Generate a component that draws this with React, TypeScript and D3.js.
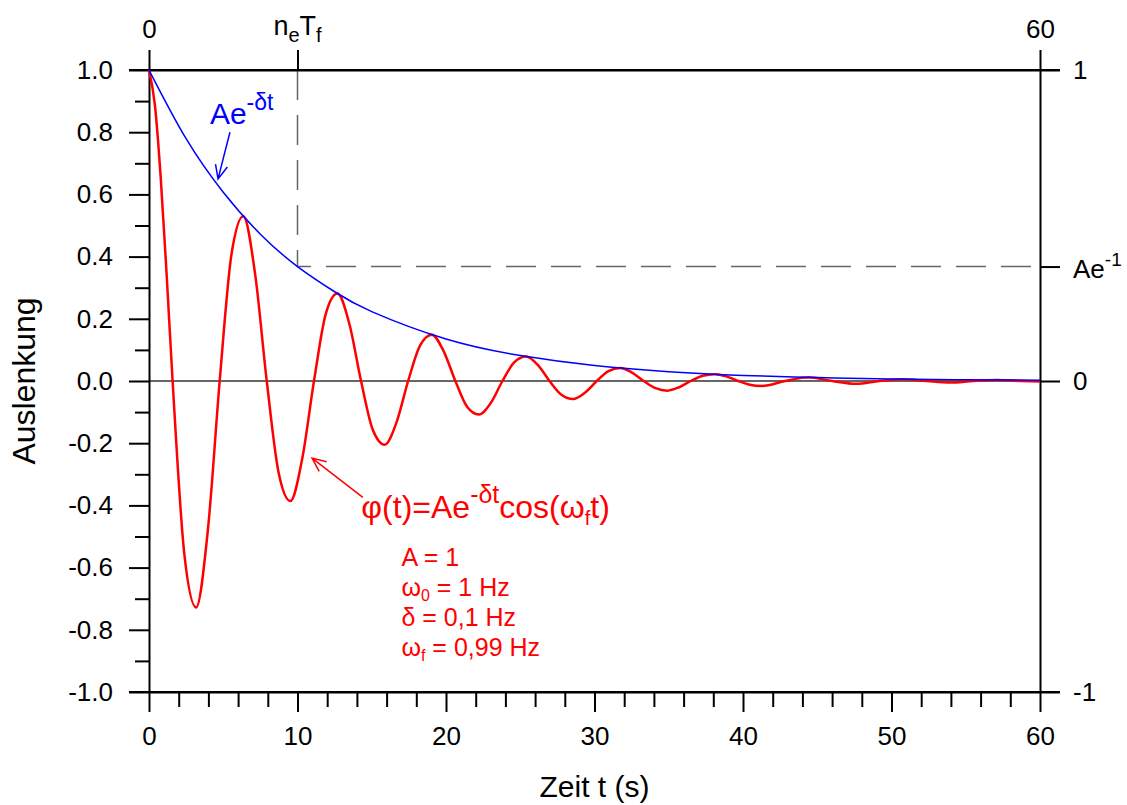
import React, { useEffect, useRef } from 'react';
import * as d3 from 'd3';

// damped oscillation, points
const redTime = [0, 0.4, 0.79, 1.19, 1.59, 2.38, 3.17, 3.97, 4.76, 5.55, 6.35, 7.14, 7.93, 8.73, 9.52, 10.31, 11.11, 11.9, 12.69, 13.49, 14.28, 15.07, 15.87, 16.66, 17.45, 18.25, 19.04, 19.83, 20.63, 21.42, 22.21, 23.01, 23.8, 24.59, 25.39, 26.18, 26.97, 27.77, 28.56, 29.35, 30.15, 30.94, 31.73, 32.53, 33.32, 34.11, 34.91, 35.7, 36.49, 37.29, 38.08, 38.87, 39.67, 40.46, 41.25, 42.84, 44.43, 46.01, 47.6, 49.19, 50.77, 52.36, 53.95, 55.53, 57.12, 58.71, 60];
const redValue = [1.0, 0.886, 0.653, 0.34, 0, -0.557, -0.728, -0.476, 0, 0.406, 0.53, 0.346, 0, -0.295, -0.386, -0.252, 0, 0.215, 0.281, 0.184, 0, -0.157, -0.205, -0.134, 0, 0.114, 0.149, 0.097, 0, -0.083, -0.108, -0.071, 0, 0.06, 0.079, 0.052, 0, -0.044, -0.058, -0.038, 0, 0.032, 0.042, 0.027, 0, -0.023, -0.031, -0.02, 0, 0.017, 0.022, 0.015, 0, -0.012, -0.016, 0, 0.012, 0, -0.009, 0, 0.006, 0, -0.005, 0, 0.003, 0, -0.002];

// envelope A e^-dt
const envTime = [0, 2.5, 5, 7.5, 10, 12.5, 15, 20, 25, 30, 35, 40, 45, 50, 55, 60];
const envValue = [1, 0.779, 0.607, 0.472, 0.368, 0.287, 0.223, 0.135, 0.082, 0.05, 0.03, 0.018, 0.011, 0.0067, 0.0041, 0.0025];

const yMajor = [-1, -0.8, -0.6, -0.4, -0.2, 0, 0.2, 0.4, 0.6, 0.8, 1];
const yLabels = ['-1.0', '-0.8', '-0.6', '-0.4', '-0.2', '0.0', '0.2', '0.4', '0.6', '0.8', '1.0'];
const yMinor = [-0.9, -0.7, -0.5, -0.3, -0.1, 0.1, 0.3, 0.5, 0.7, 0.9];
const xMajor = [0, 10, 20, 30, 40, 50, 60];
const xLabels = ['0', '10', '20', '30', '40', '50', '60'];
const xMinor = [2, 4, 6, 8, 12, 14, 16, 18, 22, 24, 26, 28, 32, 34, 36, 38, 42, 44, 46, 48, 52, 54, 56, 58];
const topTicks = [0, 10, 60];
const rightTicks = [-1, 0, 0.368, 1];

const decayT = 10;
const decayV = 0.368;

const FONT = '"Liberation Sans", Arial, sans-serif';

export default function App() {
  const ref = useRef<SVGSVGElement>(null);

  useEffect(() => {
    const svg = d3.select(ref.current);
    svg.selectAll('*').remove();

    const x = d3.scaleLinear().domain([0, 60]).range([149, 1040]);
    const y = d3.scaleLinear().domain([-1, 1]).range([692, 70]);

    const style = (g: any, size = 26) => {
      g.attr('font-size', size).attr('font-family', FONT);
      g.selectAll('path, line').attr('stroke', '#000').attr('stroke-width', 2);
      g.selectAll('text').attr('fill', '#000');
    };

    // zero line
    svg.append('line')
      .attr('x1', x(0)).attr('x2', x(60))
      .attr('y1', y(0)).attr('y2', y(0))
      .attr('stroke', '#333').attr('stroke-width', 1.3);

    // dashed guide for n_e T_f
    svg.append('path')
      .attr('d', `M${x(decayT)},${y(1)}V${y(decayV)}H${x(60)}`)
      .attr('fill', 'none')
      .attr('stroke', '#666')
      .attr('stroke-width', 1.5)
      .attr('stroke-dasharray', '30 15');

    // left
    const left = svg.append('g').attr('transform', `translate(${x(0)},0)`)
      .call(d3.axisLeft(y).tickValues(yMajor).tickSize(20).tickSizeOuter(0).tickPadding(16)
        .tickFormat((d, i) => yLabels[i]));
    style(left);
    const leftMinor = svg.append('g').attr('transform', `translate(${x(0)},0)`)
      .call(d3.axisLeft(y).tickValues(yMinor).tickSize(14).tickFormat(() => ''));
    leftMinor.select('.domain').remove();
    style(leftMinor);

    // bottom
    const bottom = svg.append('g').attr('transform', `translate(0,${y(-1)})`)
      .call(d3.axisBottom(x).tickValues(xMajor).tickSize(20).tickSizeOuter(0).tickPadding(15)
        .tickFormat((d, i) => xLabels[i]));
    style(bottom);
    const bottomMinor = svg.append('g').attr('transform', `translate(0,${y(-1)})`)
      .call(d3.axisBottom(x).tickValues(xMinor).tickSize(15).tickFormat(() => ''));
    bottomMinor.select('.domain').remove();
    style(bottomMinor);

    // top
    const top = svg.append('g').attr('transform', `translate(0,${y(1)})`)
      .call(d3.axisTop(x).tickValues(topTicks).tickSize(20).tickSizeOuter(0).tickPadding(12)
        .tickFormat((d) => (d === 10 ? '' : String(d))));
    style(top);

    // right
    const right = svg.append('g').attr('transform', `translate(${x(60)},0)`)
      .call(d3.axisRight(y).tickValues(rightTicks).tickSize(20).tickSizeOuter(0).tickPadding(13)
        .tickFormat((d) => (d === 0.368 ? '' : String(d))));
    style(right);

    // horizontal frame lines extend across tick area
    [1, -1].forEach((v) => {
      svg.append('line')
        .attr('x1', x(0) - 20).attr('x2', x(60) + 20)
        .attr('y1', y(v)).attr('y2', y(v))
        .attr('stroke', '#000').attr('stroke-width', 2);
    });

    // special labels
    const neT = svg.append('text')
      .attr('x', x(decayT)).attr('y', 35)
      .attr('text-anchor', 'middle')
      .attr('font-family', FONT).attr('font-size', 27);
    neT.append('tspan').text('n');
    neT.append('tspan').attr('font-size', 20).attr('dy', 7).text('e');
    neT.append('tspan').attr('dy', -7).text('T');
    neT.append('tspan').attr('font-size', 20).attr('dy', 7).text('f');

    const aeLbl = svg.append('text')
      .attr('x', x(60) + 33).attr('y', y(decayV) + 11)
      .attr('font-family', FONT).attr('font-size', 26);
    aeLbl.append('tspan').text('Ae');
    aeLbl.append('tspan').attr('font-size', 19).attr('dy', -12).text('-1');

    // curves
    const redLine = d3.line<number>()
      .x((d, i) => x(redTime[i]))
      .y((d) => y(d))
      .curve(d3.curveMonotoneX);
    svg.append('path')
      .attr('d', redLine(redValue))
      .attr('fill', 'none')
      .attr('stroke', '#ff0000')
      .attr('stroke-width', 2.5);

    const envLine = d3.line<number>()
      .x((d, i) => x(envTime[i]))
      .y((d) => y(d))
      .curve(d3.curveNatural);
    svg.append('path')
      .attr('d', envLine(envValue))
      .attr('fill', 'none')
      .attr('stroke', '#0000ff')
      .attr('stroke-width', 1.5);

    // arrows
    const arrow = (t0: number, v0: number, t1: number, v1: number, color: string) => {
      const x0 = x(t0), y0 = y(v0), x1 = x(t1), y1 = y(v1);
      const a = Math.atan2(y1 - y0, x1 - x0);
      const L = 15, s = 0.42;
      const p = `M${x0},${y0}L${x1},${y1}` +
        `M${x1 - L * Math.cos(a - s)},${y1 - L * Math.sin(a - s)}L${x1},${y1}` +
        `L${x1 - L * Math.cos(a + s)},${y1 - L * Math.sin(a + s)}`;
      svg.append('path').attr('d', p).attr('fill', 'none')
        .attr('stroke', color).attr('stroke-width', 1.5);
    };
    arrow(5.45, 0.8, 4.65, 0.65, '#0000ff');
    arrow(14.4, -0.374, 10.98, -0.248, '#ff0000');

    // envelope label
    const envTxt = svg.append('text')
      .attr('x', x(4.1)).attr('y', y(0.825))
      .attr('fill', '#0000ff')
      .attr('font-family', FONT).attr('font-size', 30);
    envTxt.append('tspan').text('Ae');
    envTxt.append('tspan').attr('font-size', 23).attr('dy', -14).text('-δt');

    // formula
    const fx = svg.append('text')
      .attr('x', x(14.3)).attr('y', y(-0.44))
      .attr('fill', '#ff0000')
      .attr('font-family', FONT).attr('font-size', 32);
    fx.append('tspan').text('φ(t)=Ae');
    fx.append('tspan').attr('font-size', 25).attr('dy', -15).text('-δt');
    fx.append('tspan').attr('dy', 15).text('cos(ω');
    fx.append('tspan').attr('font-size', 20).attr('dy', 7).text('f');
    fx.append('tspan').attr('dy', -7).text('t)');

    // parameters
    const params: [string, string, string][] = [
      ['A = 1', '', ''],
      ['ω', '0', ' = 1 Hz'],
      ['δ = 0,1 Hz', '', ''],
      ['ω', 'f', ' = 0,99 Hz'],
    ];
    params.forEach((p, i) => {
      const t = svg.append('text')
        .attr('x', x(17.0)).attr('y', 566 + i * 30)
        .attr('fill', '#ff0000')
        .attr('font-family', FONT).attr('font-size', 25);
      t.append('tspan').text(p[0]);
      if (p[1]) {
        t.append('tspan').attr('font-size', 16).attr('dy', 5).text(p[1]);
        t.append('tspan').attr('dy', -5).text(p[2]);
      }
    });

    // axis titles
    svg.append('text')
      .attr('x', (x(0) + x(60)) / 2).attr('y', 797)
      .attr('text-anchor', 'middle')
      .attr('font-family', FONT).attr('font-size', 30)
      .text('Zeit t (s)');
    svg.append('text')
      .attr('transform', `translate(35,${(y(1) + y(-1)) / 2}) rotate(-90)`)
      .attr('text-anchor', 'middle')
      .attr('font-family', FONT).attr('font-size', 32)
      .text('Auslenkung');
  }, []);

  return (
    <svg ref={ref} width={1127} height={805}
      style={{ position: 'absolute', left: 0, top: 0, background: '#fff' }} />
  );
}
